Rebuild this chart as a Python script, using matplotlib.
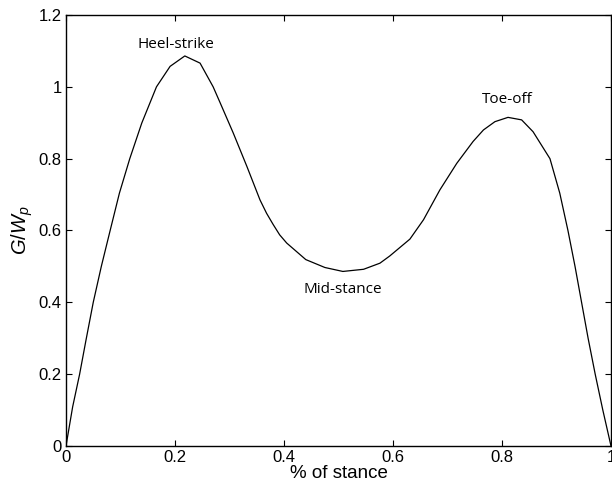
import numpy as np
import matplotlib.pyplot as plt
from matplotlib.ticker import FormatStrFormatter

plt.rcParams['font.family'] = ['Liberation Sans', 'DejaVu Sans']
plt.rcParams['mathtext.fontset'] = 'custom'
plt.rcParams['mathtext.it'] = 'Liberation Sans:italic'
plt.rcParams['mathtext.rm'] = 'Liberation Sans'

# ground reaction force over stance
stance = [0, 0.0122, 0.025, 0.0367, 0.050, 0.0648, 0.081, 0.098, 0.117, 0.139,
          0.166, 0.191, 0.218, 0.246, 0.27, 0.283, 0.307, 0.332, 0.356, 0.368,
          0.380, 0.392, 0.405, 0.44, 0.475, 0.508, 0.546, 0.576, 0.594, 0.631,
          0.656, 0.686, 0.717, 0.747, 0.766, 0.787, 0.811, 0.836, 0.857, 0.888,
          0.906, 0.921, 0.934, 0.946, 0.958, 0.971, 0.985, 1.0]
force = [0, 0.109, 0.2, 0.295, 0.40, 0.50, 0.60, 0.704, 0.80, 0.899,
         1.0, 1.057, 1.086, 1.066, 1.0, 0.955, 0.871, 0.778, 0.685, 0.648,
         0.617, 0.588, 0.565, 0.519, 0.497, 0.486, 0.492, 0.509, 0.529, 0.576,
         0.630, 0.713, 0.787, 0.848, 0.880, 0.903, 0.915, 0.908, 0.875, 0.80,
         0.704, 0.60, 0.50, 0.40, 0.30, 0.20, 0.10, 0]

events = ['Heel-strike', 'Mid-stance', 'Toe-off']
event_x = [0.202, 0.508, 0.809]
event_y = [1.117, 0.437, 0.964]

fig = plt.figure(figsize=(6.12, 4.9), dpi=100)
ax = fig.add_axes([66/612, 44/490, 545/612, 431/490])

ax.plot(stance, force, color='black', lw=0.9)

for name, ex, ey in zip(events, event_x, event_y):
    ax.text(ex, ey, name, ha='center', va='center', fontsize=11,
            family=['Open Sans', 'DejaVu Sans'])

ax.set_xlim(0, 1)
ax.set_ylim(0, 1.2)
ax.set_xticks(np.arange(0, 1.01, 0.2))
ax.set_yticks(np.arange(0, 1.21, 0.2))
ax.xaxis.set_major_formatter(FormatStrFormatter('%g'))
ax.yaxis.set_major_formatter(FormatStrFormatter('%g'))
ax.tick_params(direction='in', length=4, width=0.8, labelsize=12,
               top=True, right=True, pad=3)
for s in ax.spines.values():
    s.set_linewidth(1)

ax.set_xlabel('% of stance', fontsize=13.5, labelpad=0)
ax.set_ylabel(r'$G/W_p$', fontsize=14.5, labelpad=3)

fig.savefig('out.png', dpi=100)
